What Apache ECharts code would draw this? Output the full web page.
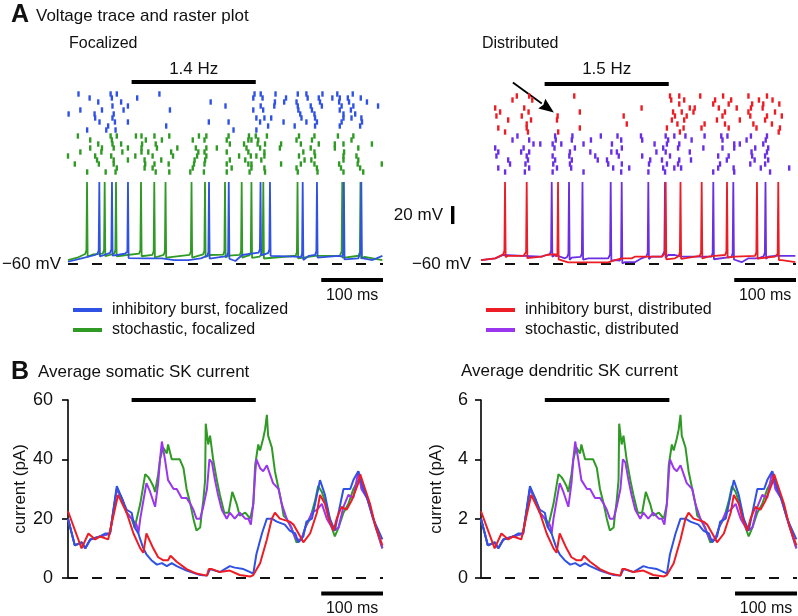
<!DOCTYPE html>
<html><head><meta charset="utf-8">
<script src="https://cdn.jsdelivr.net/npm/echarts/dist/echarts.min.js"></script>
<style>html,body{margin:0;padding:0;background:#fff}#c{width:798px;height:616px}</style>
</head><body><div id="c"></div>
<script>
// ---------- data ----------
const tMax = 510;                 // ms shown
const stimOn = 103, stimOff = 304; // stimulation window (ms)
const spikePeak = 31;             // mV
const restLine = -60;             // mV

const names = ['inhibitory burst, focalized','stochastic, focalized','inhibitory burst, distributed','stochastic, distributed'];

// spike times (ms) of the voltage traces
const spikesInhFoc = [50.7, 71.2, 97.1, 228.3, 260.3, 311.7, 327, 380, 403.1, 446.7, 474.9];
const spikesStoFoc = [30.8, 59.4, 77.7, 118.2, 139.7, 157.9, 200, 221.8, 254.2, 281.2, 297, 316.2, 371.6, 444, 473.5];
const spikesInhDis = [38.9, 74, 124.7, 299, 323, 357.3, 398.3, 446.8, 481.3];
const spikesStoDis = [114.5, 142.5, 164.3, 210, 227.8, 270.9, 297.9, 376.1, 408.5, 460.6];

// sub-threshold baselines [ms, mV]
const baseInhFoc = [[0,-57.5],[22,-53.7],[44,-50],[71,-48.6],[92,-48.6],[98,-51.9],[125,-53.7],[152,-53.7],[172,-55.6],[195,-55.6],[215,-53.7],[228,-52],[260,-52],[271,-56.7],[282,-50],[309,-50],[314,-47],[325,-47],[330,-51.9],[368,-51.9],[379,-53.7],[390,-50.9],[438,-50.9],[450,-53.7],[470,-53.7],[476,-51],[493,-55.6],[509,-50.9]];
const baseStoFoc = [[0,-55.6],[15,-53],[28,-50],[40,-49.4],[120,-49.4],[140,-50.8],[200,-50.8],[230,-50],[260,-50.8],[290,-51],[310,-51.9],[370,-51.9],[400,-51],[440,-51],[480,-52],[509,-55.6]];
const baseInhDis = [[0,-55.6],[23,-53.7],[36,-50],[44,-50.9],[69,-50.9],[77,-51.9],[98,-51.9],[106,-50],[120,-49],[128,-55.6],[141,-58.1],[206,-58.1],[217,-55.6],[228,-53.7],[244,-53.7],[249,-51.9],[293,-51.9],[303,-53.7],[314,-53.7],[325,-51.9],[368,-51.9],[379,-51],[400,-51],[411,-51.9],[476,-51.9],[487,-55.6],[509,-58]];
const baseStoDis = [[0,-55.6],[23,-53.7],[36,-50],[69,-50.9],[98,-51.9],[106,-50],[120,-50],[136,-53.7],[147,-53],[163,-53],[174,-53.7],[206,-53.7],[217,-55.6],[233,-58],[249,-58],[260,-53.7],[276,-51.9],[293,-51.9],[303,-50],[314,-50],[325,-51.9],[368,-51.9],[379,-53],[411,-53],[422,-58],[433,-53.7],[449,-53.7],[465,-51.9],[476,-51],[509,-51]];

// raster: one array of spike times (ms) per trial
const rasterInhFoc = [
 [17,69,79,148,302,312,336,372,386,412,436,461],
 [35,71,112,300,315,353,388,406,428,440,453,474],
 [49,86,231,335,350,370,408,439,455,484],
 [72,97,255,312,334,372,393,411,443,462,502],
 [20,55,90,165,300,316,373,395,440,458],
 [1,43,74,376,399,446,465],
 [44,72,305,318,329,378,400,446,459,475],
 [51,76,97,228,260,311,349,386,403,443,476],
 [65,159,324,367,400,440,473],
 [31,62,77,268,305]];
const rasterStoFoc = [
 [16,69,79,110,119,140,164,212,224,260,293,304,322,374,399,437,462],
 [36,71,126,152,202,221,257,292,297,308,370,395,459],
 [49,72,86,120,142,262,285,307,319,345,377,406,432,446,492],
 [36,55,74,97,119,144,177,207,224,241,289,311,343,393,432,470],
 [20,54,88,119,130,167,211,221,257,292,318,381,399,447],
 [0,44,70,109,137,170,209,224,277,296,305,318,374,400,446,467],
 [47,74,97,124,151,205,222,262,287,313,383,394,446,470],
 [11,50,74,125,140,163,204,221,257,292,297,345,377,399,439,469,508],
 [79,124,137,202,265,297,318,370,403,442,473],
 [31,61,77,142,164,198,220,257,294,319,372,404,446,478]];
const rasterInhDis = [
 [58,78,151,306,321,355,392,433,463],
 [51,83,308,329,379,405,450,472],
 [321,376,401,439,457,483],
 [23,70,260,338,346,385,414,437,456],
 [31,77,160,311,325,344,395,433,476],
 [25,66,124,231,314,333,391,436,463,487],
 [44,81,123,309,329,382,419,460],
 [74,236,318,362,395,441,471],
 [28,74,160,301,328,357,401,446,484],
 [39,76,125,322,482]];
const rasterStoDis = [
 [59,120,148,194,221,259,299,313,331,362,389,399,437,463],
 [51,78,121,147,178,227,261,303,341,391,430,461],
 [85,96,116,130,166,212,281,301,321,410,419,457],
 [23,69,119,152,228,295,319,360,391,410,444,465],
 [28,65,78,144,177,211,220,284,299,338,438,463],
 [25,74,116,143,185,223,261,306,384,401,439,460],
 [44,76,120,147,189,204,274,293,321,340,398,443,465],
 [47,72,117,144,206,228,272,301,319,387,436,460],
 [28,78,123,146,214,240,295,313,324,384,409,453,499],
 [39,71,116,166,227,271,298,376,410,468]];

// average somatic SK current (pA)  [ms, pA]
const somInhFoc = [[0,20],[11,11],[22,12],[28,10],[36,13],[52,14],[60,15],[68,15],[79,31],[87,27],[95,23],[103,22],[108,17],[114,15],[117,13],[122,10],[127,8],[135,6],[144,4.5],[152,5],[160,4],[168,5],[176,4],[192,2.5],[214,1],[225,0.8],[230,3],[246,2],[262,4],[270,3.5],[284,3],[295,2],[300,1.5],[305,8],[314,15],[322,20],[330,20],[338,19],[351,18],[359,16],[368,15],[373,12],[381,14],[386,19],[395,20],[400,25],[408,33],[416,28],[424,20],[430,17],[432,16],[438,22],[446,30],[457,30],[462,33],[470,36],[478,30],[486,26],[494,20],[509,13]];
const somStoFoc = [[0,20],[11,11],[22,12],[28,10],[36,13],[52,14],[68,15],[79,30],[87,27],[95,22],[103,20],[108,17],[117,25],[125,35],[130,34],[133,33],[138,31],[141,29],[146,35],[149,40],[154,44],[160,42],[162,45],[168,40],[173,40],[181,40],[187,37],[192,30],[198,25],[203,20],[208,16],[214,17],[216,21],[219,26],[222,33],[223,52],[227,45],[230,48],[235,40],[241,33],[246,28],[253,22],[260,22],[266,29],[273,25],[278,21],[287,22],[295,20],[300,25],[303,38],[308,45],[311,43],[316,47],[319,50],[322,55],[324,48],[330,44],[335,36],[341,30],[346,25],[349,21],[354,20],[359,18],[362,17],[365,15],[370,12],[378,13],[384,17],[392,20],[400,26],[405,31],[411,29],[419,24],[427,17],[432,14],[438,17],[446,22],[454,25],[462,30],[470,33],[478,31],[489,24],[500,16],[509,10]];
const somInhDis = [[0,22.5],[22,10],[33,15],[44,13],[52,14],[65,13],[68,12.5],[81,28],[95,22],[106,15],[117,10],[122,8.5],[127,15],[138,10],[146,7],[154,6],[162,6],[166,7.5],[176,5.5],[192,3],[208,1.5],[225,0.8],[228,3],[233,3],[246,2],[262,2.5],[278,1],[295,0.5],[300,1],[311,5],[322,13],[330,20],[335,22],[343,20],[359,19],[365,18],[376,14],[381,12],[392,15],[403,22],[408,28],[416,25],[422,20],[430,16],[435,20],[443,24],[451,23],[459,26],[470,32],[473,35],[481,30],[489,25],[497,18],[509,11]];
const somStoDis = [[0,20],[11,11],[22,12],[28,10],[36,13],[52,14],[68,15],[79,30],[87,27],[95,22],[103,20],[111,18],[114,15],[117,20],[127,32],[133,29],[141,24],[146,32],[149,40],[152,46],[157,40],[162,33],[171,30],[176,30],[184,27],[192,27],[198,25],[203,23],[208,20],[214,20],[219,24],[225,30],[229,40],[233,39],[238,33],[243,28],[249,23],[257,20],[262,22],[270,20],[278,22],[287,20],[292,20],[296,18],[300,25],[303,35],[305,40],[311,37],[316,36],[322,38],[327,35],[332,32],[341,30],[346,25],[354,20],[359,18],[365,15],[370,13],[378,13],[386,18],[395,22],[403,23],[411,25],[419,20],[430,16],[438,17],[446,24],[454,28],[462,27],[470,36],[475,30],[484,27],[494,20],[509,10]];

// average dendritic SK current (pA)  [ms, pA]
const denInhFoc = [[0,2.0],[11,1.1],[22,1.2],[28,1.0],[36,1.3],[52,1.4],[60,1.5],[68,1.5],[79,3.1],[87,2.7],[95,2.3],[103,2.2],[108,1.7],[114,1.5],[117,1.3],[122,1.0],[127,0.8],[135,0.6],[144,0.45],[152,0.5],[160,0.4],[168,0.5],[176,0.4],[192,0.25],[214,0.1],[225,0.08],[230,0.3],[246,0.2],[262,0.4],[270,0.35],[284,0.3],[295,0.2],[300,0.15],[305,0.8],[314,1.5],[322,2.0],[330,2.0],[338,1.9],[351,1.8],[359,1.6],[368,1.5],[373,1.2],[381,1.4],[386,1.9],[395,2.0],[400,2.5],[408,3.3],[416,2.8],[424,2.0],[430,1.7],[432,1.6],[438,2.2],[446,3.0],[457,3.0],[462,3.3],[470,3.6],[478,3.0],[486,2.6],[494,2.0],[509,1.3]];
const denStoFoc = [[0,2.0],[11,1.1],[22,1.2],[28,1.0],[36,1.3],[52,1.4],[68,1.5],[79,3.0],[87,2.7],[95,2.2],[103,2.0],[108,1.7],[117,2.5],[125,3.5],[130,3.4],[133,3.3],[138,3.1],[141,2.9],[146,3.5],[149,4.0],[154,4.4],[160,4.2],[162,4.5],[168,4.0],[173,4.0],[181,4.0],[187,3.7],[192,3.0],[198,2.5],[203,2.0],[208,1.6],[214,1.7],[216,2.1],[219,2.6],[222,3.3],[223,5.2],[227,4.5],[230,4.8],[235,4.0],[241,3.3],[246,2.8],[253,2.2],[260,2.2],[266,2.9],[273,2.5],[278,2.1],[287,2.2],[295,2.0],[300,2.5],[303,3.8],[308,4.5],[311,4.3],[316,4.7],[319,5.0],[322,5.5],[324,4.8],[330,4.4],[335,3.6],[341,3.0],[346,2.5],[349,2.1],[354,2.0],[359,1.8],[362,1.7],[365,1.5],[370,1.2],[378,1.3],[384,1.7],[392,2.0],[400,2.6],[405,3.1],[411,2.9],[419,2.4],[427,1.7],[432,1.4],[438,1.7],[446,2.2],[454,2.5],[462,3.0],[470,3.3],[478,3.1],[489,2.4],[500,1.6],[509,1.0]];
const denInhDis = [[0,2.25],[22,1.0],[33,1.5],[44,1.3],[52,1.4],[65,1.3],[68,1.25],[81,2.8],[95,2.2],[106,1.5],[117,1.0],[122,0.85],[127,1.5],[138,1.0],[146,0.7],[154,0.6],[162,0.6],[166,0.75],[176,0.55],[192,0.3],[208,0.15],[225,0.08],[228,0.3],[233,0.3],[246,0.2],[262,0.25],[278,0.1],[295,0.05],[300,0.1],[311,0.5],[322,1.3],[330,2.0],[335,2.2],[343,2.0],[359,1.9],[365,1.8],[376,1.4],[381,1.2],[392,1.5],[403,2.2],[408,2.8],[416,2.5],[422,2.0],[430,1.6],[435,2.0],[443,2.4],[451,2.3],[459,2.6],[470,3.2],[473,3.5],[481,3.0],[489,2.5],[497,1.8],[509,1.1]];
const denStoDis = [[0,2.0],[11,1.1],[22,1.2],[28,1.0],[36,1.3],[52,1.4],[68,1.5],[79,3.0],[87,2.7],[95,2.2],[103,2.0],[111,1.8],[114,1.5],[117,2.0],[127,3.2],[133,2.9],[141,2.4],[146,3.2],[149,4.0],[152,4.6],[157,4.0],[162,3.3],[171,3.0],[176,3.0],[184,2.7],[192,2.7],[198,2.5],[203,2.3],[208,2.0],[214,2.0],[219,2.4],[225,3.0],[229,4.0],[233,3.9],[238,3.3],[243,2.8],[249,2.3],[257,2.0],[262,2.2],[270,2.0],[278,2.2],[287,2.0],[292,2.0],[296,1.8],[300,2.5],[303,3.5],[305,4.0],[311,3.7],[316,3.6],[322,3.8],[327,3.5],[332,3.2],[341,3.0],[346,2.5],[354,2.0],[359,1.8],[365,1.5],[370,1.3],[378,1.3],[386,1.8],[395,2.2],[403,2.3],[411,2.5],[419,2.0],[430,1.6],[438,1.7],[446,2.4],[454,2.8],[462,2.7],[470,3.6],[475,3.0],[484,2.7],[494,2.0],[509,1.0]];

// ---------- styling ----------
const FONT = '"Liberation Sans", Arial, Helvetica, sans-serif';
const COL = {inhFoc:'#2f52e4', stoFoc:'#2f9a24', inhDis:'#ec1d25', stoDisA:'#6a2ee4', stoDisB:'#9a36ee'};

function interp(base, t){
  for (let i=0;i<base.length-1;i++){
    if (t>=base[i][0] && t<=base[i+1][0]){
      const f=(t-base[i][0])/(base[i+1][0]-base[i][0]);
      return base[i][1]+f*(base[i+1][1]-base[i][1]);
    }
  }
  return base[base.length-1][1];
}
function buildTrace(base, spikes){
  const pts = base.filter(p => !spikes.some(s => Math.abs(p[0]-s) < 3)).map(p => [p[0], p[1]]);
  spikes.forEach(s => {
    const b = interp(base, s);
    pts.push([s-3, b+1], [s-1, b+5], [s, spikePeak], [s+1, b-2], [s+3, b-0.5]);
  });
  pts.sort((a,b)=>a[0]-b[0]);
  return pts;
}
function rasterPts(trials, offset){
  const out=[];
  trials.forEach((tr,i)=>tr.forEach(t=>out.push([t, i+offset])));
  return out;
}

const chart = echarts.init(document.getElementById('c'), null, {renderer:'canvas'});
const xa = g => ({gridIndex:g, type:'value', min:0, max:tMax, show:false});
const yCur = (g, max, interval, gap, margin) => ({
  gridIndex:g, type:'value', min:0, max:max, interval:interval,
  axisLine:{show:true, lineStyle:{color:'#000', width:1.6}},
  axisTick:{show:true, inside:false, length:6, lineStyle:{color:'#000', width:1.6}},
  axisLabel:{fontSize:18, color:'#111', margin:margin, fontFamily:FONT},
  splitLine:{show:false},
  name:'current (pA)', nameLocation:'middle', nameGap:gap, nameRotate:90,
  nameTextStyle:{fontSize:17, color:'#111', fontFamily:FONT}
});
const lineS = (name, g, data, color, w, z) => ({
  name, type:'line', xAxisIndex:g, yAxisIndex:g, data, showSymbol:false, symbol:'none',
  lineStyle:{color, width:w}, itemStyle:{color}, z:z||2, silent:true, animation:false, clip:false
});
const dashS = (g, y) => ({
  type:'line', xAxisIndex:g, yAxisIndex:g, data:[[0,y],[tMax,y]], showSymbol:false, symbol:'none',
  lineStyle:{color:'#111', width:1.8, type:[10,14]}, z:1, silent:true, animation:false
});
const rasterS = (g, data, color) => ({
  type:'scatter', xAxisIndex:g, yAxisIndex:g, data, symbol:'rect', symbolSize:[2.4,5.4],
  itemStyle:{color, opacity:1}, silent:true, animation:false
});

chart.setOption({
  animation:false,
  textStyle:{fontFamily:FONT},
  grid:[
    {left:68, top:92, width:315, height:84},
    {left:68, top:178.5, width:315, height:90},
    {left:481, top:92, width:315, height:84},
    {left:481, top:178.5, width:315, height:90},
    {left:68, top:400, width:315, height:178},
    {left:481, top:400, width:316, height:178}
  ],
  xAxis:[xa(0),xa(1),xa(2),xa(3),xa(4),xa(5)],
  yAxis:[
    {gridIndex:0, type:'value', min:-0.5, max:20.5, inverse:true, show:false},
    {gridIndex:1, type:'value', min:-65, max:35, show:false},
    {gridIndex:2, type:'value', min:-0.5, max:20.5, inverse:true, show:false},
    {gridIndex:3, type:'value', min:-65, max:35, show:false},
    yCur(4, 60, 20, 38, 15),
    yCur(5, 6, 2, 36, 13)
  ],
  legend:[
    {left:68, top:297, orient:'vertical', icon:'rect', itemWidth:29, itemHeight:4, itemGap:4,
     textStyle:{fontSize:16, color:'#111', fontFamily:FONT, padding:[0,0,0,5]}, selectedMode:false,
     data:[{name:names[0], itemStyle:{color:COL.inhFoc}}, {name:names[1], itemStyle:{color:COL.stoFoc}}]},
    {left:481, top:297, orient:'vertical', icon:'rect', itemWidth:29, itemHeight:4, itemGap:4,
     textStyle:{fontSize:16, color:'#111', fontFamily:FONT, padding:[0,0,0,5]}, selectedMode:false,
     data:[{name:names[2], itemStyle:{color:COL.inhDis}}, {name:names[3], itemStyle:{color:COL.stoDisB}}]}
  ],
  series:[
    rasterS(0, rasterPts(rasterInhFoc, 0), COL.inhFoc),
    rasterS(0, rasterPts(rasterStoFoc, 10.5), COL.stoFoc),
    dashS(1, restLine),
    lineS(names[1], 1, buildTrace(baseStoFoc, spikesStoFoc), COL.stoFoc, 1.8, 2),
    lineS(names[0], 1, buildTrace(baseInhFoc, spikesInhFoc), COL.inhFoc, 1.8, 3),
    rasterS(2, rasterPts(rasterInhDis, 0.5), COL.inhDis),
    rasterS(2, rasterPts(rasterStoDis, 10.5), COL.stoDisA),
    dashS(3, restLine),
    lineS(names[3], 3, buildTrace(baseStoDis, spikesStoDis), COL.stoDisA, 1.8, 2),
    lineS(names[2], 3, buildTrace(baseInhDis, spikesInhDis), COL.inhDis, 1.8, 3),
    dashS(4, 0),
    lineS(names[1], 4, somStoFoc, COL.stoFoc, 2, 2),
    lineS(names[3], 4, somStoDis, COL.stoDisB, 2, 3),
    lineS(names[0], 4, somInhFoc, COL.inhFoc, 2, 4),
    lineS(names[2], 4, somInhDis, COL.inhDis, 2, 5),
    dashS(5, 0),
    lineS(names[1], 5, denStoFoc, COL.stoFoc, 2, 2),
    lineS(names[3], 5, denStoDis, COL.stoDisB, 2, 3),
    lineS(names[0], 5, denInhFoc, COL.inhFoc, 2, 4),
    lineS(names[2], 5, denInhDis, COL.inhDis, 2, 5)
  ]
});

// ---------- annotations (scale bars, labels) placed through the axes ----------
const P = (g, pt) => chart.convertToPixel({gridIndex:g}, pt);
const gr = [];
function txt(text, x, y, size, align, weight){
  gr.push({type:'text', silent:true, style:{text, x, y, fontSize:size, fontFamily:FONT, fontWeight:weight||'normal',
    fill:'#111', align:align||'left', verticalAlign:'middle'}});
}
function hbar(x1, x2, y, h){
  gr.push({type:'rect', silent:true, shape:{x:x1, y:y-h/2, width:x2-x1, height:h}, style:{fill:'#000'}});
}
// titles
txt('A', 11, 15, 25, 'left', 'bold');
txt('Voltage trace and raster plot', 36, 16, 17);
txt('Focalized', 69, 44, 16);
txt('Distributed', 482, 44, 16);
txt('B', 11, 372, 25, 'left', 'bold');
txt('Average somatic SK current', 38, 372, 17);
txt('Average dendritic SK current', 461, 371, 17);
// stimulation bars
[[0,82,'1.4 Hz'],[2,84,'1.5 Hz']].forEach(([g,y,lab])=>{
  const a=P(g,[stimOn,0]), b=P(g,[stimOff,0]);
  hbar(a[0], b[0], y, 4.2);
  txt(lab, (a[0]+b[0])/2, 69, 17, 'center');
});
[[4,60],[5,6]].forEach(([g,v])=>{
  const a=P(g,[stimOn,v]), b=P(g,[stimOff,v]);
  hbar(a[0], b[0], a[1], 4.2);
});
// 100 ms scale bars
[[1,280,296],[3,280,296],[4,593.5,609],[5,593.5,609]].forEach(([g,y,ty])=>{
  const a=P(g,[tMax-100,0]), b=P(g,[tMax,0]);
  hbar(a[0], b[0], y, 4.2);
  txt('100 ms', (a[0]+b[0])/2, ty, 16, 'center');
});
// -60 mV labels
[[1,61],[3,471]].forEach(([g,x])=>{
  const p=P(g,[0,restLine]);
  txt('\u221260 mV', x, p[1], 17, 'right');
});
// 20 mV scale bar
{
  const a=P(3,[0,-15.6]), b=P(3,[0,4.4]);
  gr.push({type:'rect', silent:true, shape:{x:451, y:b[1], width:3.4, height:a[1]-b[1]}, style:{fill:'#000'}});
  txt('20 mV', 443, (a[1]+b[1])/2, 17, 'right');
}
// arrow pointing at raster
{
  const tip = P(2,[118,4.6]);
  const tail = [tip[0]-41, tip[1]-30];
  const L = Math.hypot(tip[0]-tail[0], tip[1]-tail[1]);
  const d=[(tip[0]-tail[0])/L,(tip[1]-tail[1])/L], n=[-d[1],d[0]];
  const hb=[tip[0]-15*d[0], tip[1]-15*d[1]];
  gr.push({type:'line', silent:true, shape:{x1:tail[0], y1:tail[1], x2:hb[0], y2:hb[1]}, style:{stroke:'#000', lineWidth:1.8}});
  gr.push({type:'polygon', silent:true, shape:{points:[tip,[hb[0]+6*n[0],hb[1]+6*n[1]],[hb[0]+2*d[0],hb[1]+2*d[1]],[hb[0]-6*n[0],hb[1]-6*n[1]]]}, style:{fill:'#000'}});
}
chart.setOption({graphic:gr});
</script></body></html>
